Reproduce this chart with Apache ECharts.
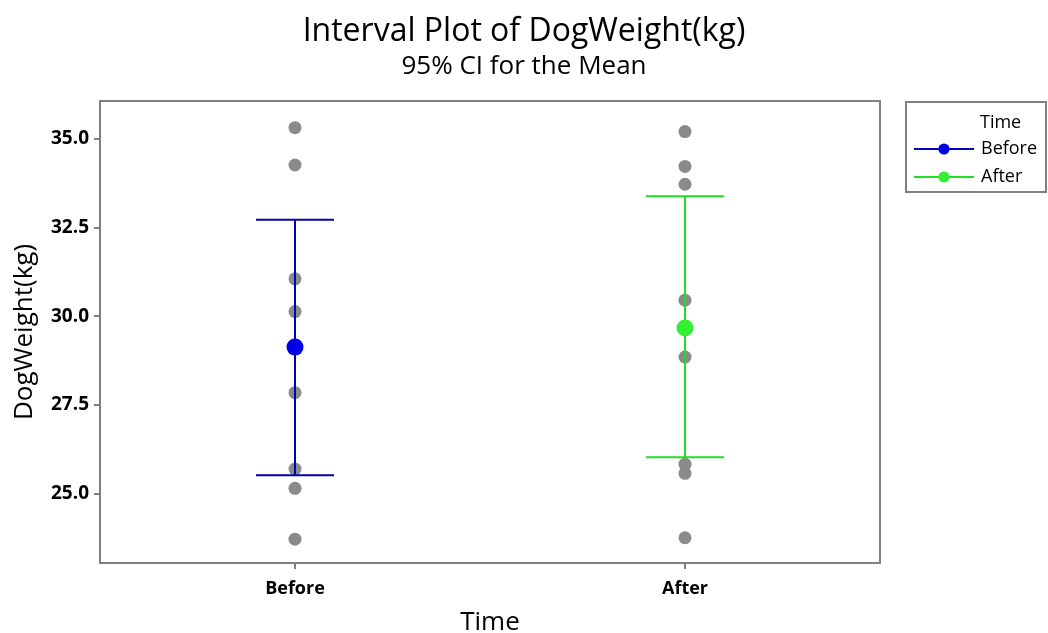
<!DOCTYPE html>
<html>
<head>
<meta charset="utf-8">
<script src="https://cdn.jsdelivr.net/npm/echarts@6/dist/echarts.min.js"></script>
<style>html,body{margin:0;padding:0;background:#fff;}#c{width:1048px;height:633px;}</style>
</head>
<body>
<div id="c"></div>
<script>
var categories = ['Before', 'After'];
var beforeValues = [35.30, 34.25, 31.05, 30.13, 27.85, 25.70, 25.16, 23.73];
var afterValues = [35.19, 34.21, 33.71, 30.45, 28.85, 25.84, 25.58, 23.77];
var means = [29.13, 29.67];
var ciLower = [25.53, 26.03];
var ciUpper = [32.71, 33.37];
var yTicks = [25, 27.5, 30, 32.5, 35];
var colors = ['#0000b4', '#22dd22'];
var meanColors = ['#0000e6', '#33ee33'];

var FONT = 'Open Sans';
var chart = echarts.init(document.getElementById('c'));

var scatterData = [];
beforeValues.forEach(function (v) { scatterData.push([categories[0], v]); });
afterValues.forEach(function (v) { scatterData.push([categories[1], v]); });

var ciData = categories.map(function (c, i) { return [i, ciLower[i], ciUpper[i]]; });

var option = {
  backgroundColor: '#ffffff',
  animation: false,
  title: {
    text: 'Interval Plot of DogWeight(kg)',
    subtext: '95% CI for the Mean',
    left: 'center',
    top: 11,
    itemGap: 6,
    textStyle: { fontFamily: FONT, fontSize: 32, fontWeight: 500, color: '#000' },
    subtextStyle: { fontFamily: FONT, fontSize: 26, fontWeight: 500, color: '#000' }
  },
  grid: {
    left: 100, top: 101, width: 780, height: 462,
    outerBoundsMode: 'none',
    containLabel: false,
    show: true, borderColor: '#808080', borderWidth: 2, backgroundColor: 'transparent'
  },
  legend: {
    orient: 'vertical',
    left: 908,
    top: 135,
    itemWidth: 60,
    itemHeight: 14,
    itemGap: 10,
    data: ['Before', 'After'],
    textStyle: { fontFamily: FONT, fontSize: 18, fontWeight: 500, color: '#000', padding: [0, 0, 0, 2] }
  },
  graphic: [
    { type: 'rect', shape: { x: 906, y: 102, width: 140, height: 90 }, style: { fill: 'none', stroke: '#808080', lineWidth: 2 }, z: 0 },
    { type: 'text', left: 980, top: 114, style: { text: 'Time', fontFamily: FONT, fontSize: 18, fontWeight: 500, fill: '#000' } }
  ],
  xAxis: {
    type: 'category',
    data: categories,
    boundaryGap: true,
    name: 'Time',
    nameLocation: 'middle',
    nameGap: 47,
    nameTextStyle: { fontFamily: FONT, fontSize: 26, fontWeight: 500, color: '#000' },
    axisLine: { show: true, lineStyle: { color: '#808080', width: 2 } },
    axisTick: { show: true, alignWithLabel: true, inside: false, length: 6, lineStyle: { color: '#808080', width: 2 } },
    axisLabel: { fontFamily: FONT, fontSize: 18, fontWeight: 'bold', color: '#000', margin: 17 },
    splitLine: { show: false },
    z: 5
  },
  yAxis: {
    type: 'value',
    min: 23.06,
    max: 36.05,
    name: 'DogWeight(kg)',
    nameLocation: 'middle',
    nameGap: 62,
    nameTextStyle: { fontFamily: FONT, fontSize: 26, fontWeight: 500, color: '#000' },
    axisLine: { show: true, lineStyle: { color: '#808080', width: 2 } },
    axisTick: { show: true, inside: false, length: 6, customValues: yTicks, lineStyle: { color: '#808080', width: 2 } },
    axisLabel: {
      fontFamily: FONT, fontSize: 19, fontWeight: 'bold', color: '#000', margin: 11,
      customValues: yTicks,
      formatter: function (v) { return v.toFixed(1); }
    },
    splitLine: { show: false },
    z: 5
  },
  series: [
    {
      name: 'points',
      type: 'scatter',
      data: scatterData,
      symbolSize: 13,
      itemStyle: { color: '#8a8a8a', opacity: 1 },
      z: 2
    },
    {
      name: 'ci',
      type: 'custom',
      data: ciData,
      z: 3,
      renderItem: function (params, api) {
        var i = api.value(0);
        var lo = api.coord([i, api.value(1)]);
        var hi = api.coord([i, api.value(2)]);
        var half = 39;
        var col = colors[i];
        var st = { stroke: col, lineWidth: 2 };
        return {
          type: 'group',
          children: [
            { type: 'line', shape: { x1: lo[0], y1: lo[1], x2: hi[0], y2: hi[1] }, style: st },
            { type: 'line', shape: { x1: lo[0] - half, y1: lo[1], x2: lo[0] + half, y2: lo[1] }, style: st },
            { type: 'line', shape: { x1: hi[0] - half, y1: hi[1], x2: hi[0] + half, y2: hi[1] }, style: st }
          ]
        };
      }
    },
    {
      name: 'Before',
      type: 'line',
      data: [[categories[0], means[0]]],
      symbol: 'circle',
      symbolSize: 17,
      showSymbol: true,
      lineStyle: { color: colors[0], width: 2 },
      itemStyle: { color: meanColors[0] },
      z: 4
    },
    {
      name: 'After',
      type: 'line',
      data: [[categories[1], means[1]]],
      symbol: 'circle',
      symbolSize: 17,
      showSymbol: true,
      lineStyle: { color: colors[1], width: 2 },
      itemStyle: { color: meanColors[1] },
      z: 4
    }
  ]
};
chart.setOption(option);
</script>
</body>
</html>
